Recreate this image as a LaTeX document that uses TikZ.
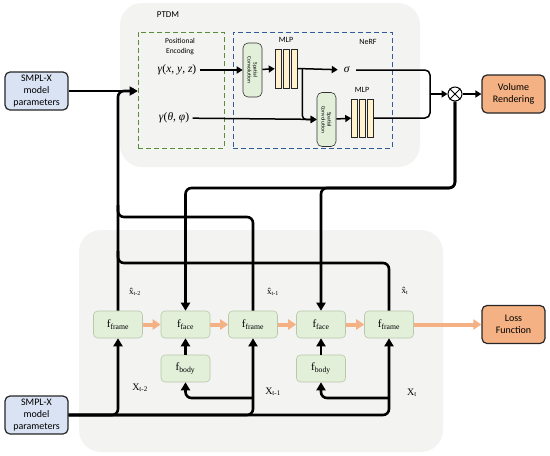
\documentclass[tikz,border=0pt]{standalone}
\usepackage{fontspec}
\setmainfont{Liberation Serif}
\newfontfamily\carlito{Carlito}
\usetikzlibrary{calc,positioning,arrows.meta}

\definecolor{panelgray}{RGB}{243,243,242}
\definecolor{peGreen}{RGB}{90,140,60}
\definecolor{nerfBlue}{RGB}{50,90,150}
\definecolor{convGreen}{RGB}{226,240,217}
\definecolor{mlpYellow}{RGB}{255,242,204}
\definecolor{fBorder}{RGB}{185,200,170}
\definecolor{outOrange}{RGB}{244,177,131}
\definecolor{smplBlue}{RGB}{218,227,243}

\tikzset{
  panel/.style={fill=panelgray,rounded corners=22pt},
  block/.style={draw=black!85,line width=1.2pt,rounded corners=5pt,align=center,
    minimum width=63pt,minimum height=38pt,inner sep=1pt,
    font=\carlito\fontsize{10}{12}\selectfont},
  conv/.style={draw=black!80,fill=convGreen,line width=0.6pt,rounded corners=5pt,rotate=-90,
    minimum width=54pt,minimum height=19pt,inner sep=0pt,align=center,
    font=\carlito\fontsize{5.5}{6}\selectfont},
  bar/.style={draw=black!85,fill=mlpYellow,line width=0.6pt,minimum width=6pt,inner sep=0pt},
  fbox/.style={draw=fBorder,fill=convGreen,line width=0.6pt,rounded corners=4pt,
    minimum width=49pt,minimum height=27pt,inner sep=0pt,font=\fontsize{11}{12}\selectfont},
  link/.style={draw=black,line width=1.5pt,-{Triangle[width=7pt,length=6pt]}},
  conn/.style={draw=black,line width=2.6pt,rounded corners=6pt},
  tip/.style={-{Triangle[width=9pt,length=8pt]}},
  flow/.style={draw=outOrange,line width=4pt,-{Triangle[width=10pt,length=8pt]}},
  lbl/.style={font=\carlito\fontsize{8}{9}\selectfont,inner sep=1pt},
  seq/.style={font=\fontsize{10}{12}\selectfont,inner sep=0pt},
  greek/.style={font=\fontsize{11.5}{12}\selectfont},
}

\begin{document}
\begin{tikzpicture}[x=1pt,y=-1pt]
\useasboundingbox (0,0) rectangle (550,456);
% -> panels
\fill[panel] (120,3) rectangle (420,167);
\fill[panel] (79,230) rectangle (443,452);
% -> PTDM
\node[lbl,font=\carlito\fontsize{9}{10}\selectfont] (ptdm) at (168,15) {PTDM};
\node[draw=peGreen,dash pattern=on 5pt off 3pt,line width=1pt,minimum width=86pt,minimum height=116pt] (pe) at (181,90) {};
\node[draw=nerfBlue,dash pattern=on 5pt off 3pt,line width=1pt,minimum width=159pt,minimum height=116pt] (nerf) at (312.5,90) {};
\node[lbl,align=center,font=\carlito\fontsize{7.5}{10}\selectfont] (petxt) at (180,47) {Positional\\Encoding};
\node[lbl] (nerftxt) at (368,42) {NeRF};
\node[greek] (gxyz) at (177,70) {\textit{γ}(\textit{x}, \textit{y}, \textit{z})};
\node[greek] (gtp) at (174,118) {\textit{γ}(\textit{θ}, \textit{φ})};
\node[conv] (conv1) at (252.5,70) {Spatial\\Convolution};
\node[conv] (conv2) at (326.5,119.5) {Spatial\\Convolution};
\foreach \i in {1,2,3} {
  \node[bar,minimum height=39pt] (mlpA\i) at (270+8*\i,68.5) {};
  \node[bar,minimum height=38pt] (mlpB\i) at (346.5+8*\i,118) {};
}
\node[lbl] (mlpAtxt) at (286,40) {MLP};
\node[lbl] (mlpBtxt) at (362,90) {MLP};
\node[greek,inner sep=6pt] (sig) at (347,70) {\textit{σ}};
\node[draw,circle,line width=1pt,minimum size=14pt,inner sep=0pt] (mix) at (455,94) {};
\draw[line width=1pt] (mix.north west) -- (mix.south east) (mix.north east) -- (mix.south west);
\node[block,fill=outOrange] (volR) at (513.5,94) {Volume\\Rendering};
\node[block,fill=smplBlue] (smplA) at (36.5,91) {SMPL-X\\model\\parameters};
\coordinate (split) at ($(mlpA3.east)+(5,0)$);
\coordinate (join) at (430,94);
\draw[link] (smplA.east) -- (smplA.east -| pe.west);
\draw[link] (gxyz) -- (conv1);
\draw[link] (conv1) -- (mlpA1);
\draw[link] (mlpA3.east) -- (sig);
\draw[link,rounded corners=4pt] (split) |- (conv2);
\draw[link] (gtp) -- (conv2);
\draw[link] (conv2) -- (mlpB1);
\draw[line width=1.5pt,rounded corners=5pt] (sig) -| (join);
\draw[line width=1.5pt,rounded corners=5pt] (mlpB3.east) -| (join);
\draw[link] (join) -- (mix);
\draw[link] (mix) -- (volR);
% -> frame / face / body chain
\node[fbox] (frameA) at (118,324.5) {f\textsubscript{frame}};
\node[fbox] (faceA) at (185.5,324.5) {f\textsubscript{face}};
\node[fbox] (frameB) at (253,324.5) {f\textsubscript{frame}};
\node[fbox] (faceB) at (321,324.5) {f\textsubscript{face}};
\node[fbox] (frameC) at (389,324.5) {f\textsubscript{frame}};
\node[fbox] (bodyA) at (185.5,368.5) {f\textsubscript{body}};
\node[fbox] (bodyB) at (321,368.5) {f\textsubscript{body}};
\node[block,fill=outOrange] (lossF) at (513.5,324.5) {Loss\\Function};
\node[block,fill=smplBlue] (smplB) at (36.5,415) {SMPL-X\\model\\parameters};
\node[seq,font=\fontsize{9}{10}\selectfont] (xhA) at (135,292) {\^{x}\textsubscript{t-2}};
\node[seq,font=\fontsize{9}{10}\selectfont] (xhB) at (273,292) {\^{x}\textsubscript{t-1}};
\node[seq,font=\fontsize{9}{10}\selectfont] (xhC) at (405,291) {\^{x}\textsubscript{t}};
\node[seq] (xA) at (140,388) {X\textsubscript{t-2}};
\node[seq] (xB) at (273,392) {X\textsubscript{t-1}};
\node[seq] (xC) at (412,393) {X\textsubscript{t}};
\coordinate (railMix) at (0,188);
\coordinate (railB) at (0,217);
\coordinate (railC) at (0,263);
\coordinate (railBody) at (0,398);
% x-hat back to PTDM
\draw[conn,tip] (frameA.north) |- (smplA.east -| pe.west);
\draw[conn] (frameB.north) |- (frameA.north |- railB) -- ++(0,-12);
\draw[conn] (frameC.north) |- (frameA.north |- railC) -- ++(0,-12);
% rendering back to faces
\draw[conn,tip] (mix.south) |- (faceA.north |- railMix) -- (faceA.north);
\draw[conn,tip] (mix.south) |- (faceB.north |- railMix) -- (faceB.north);
% SMPL-X inputs
\draw[conn,tip] (smplB.east) -| (frameC.south);
\draw[conn,tip] (smplB.east) -| (frameA.south);
\draw[conn,tip] (smplB.east) -| (frameB.south);
\draw[conn,tip] (frameB.south |- railBody) -| (bodyA.south);
\draw[conn,tip] (frameC.south |- railBody) -| (bodyB.south);
\draw[conn,tip] (bodyA) -- (faceA);
\draw[conn,tip] (bodyB) -- (faceB);
% -> orange flow
\draw[flow] (frameA) -- (faceA);
\draw[flow] (faceA) -- (frameB);
\draw[flow] (frameB) -- (faceB);
\draw[flow] (faceB) -- (frameC);
\draw[flow] (frameC) -- (lossF);
\end{tikzpicture}
\end{document}
